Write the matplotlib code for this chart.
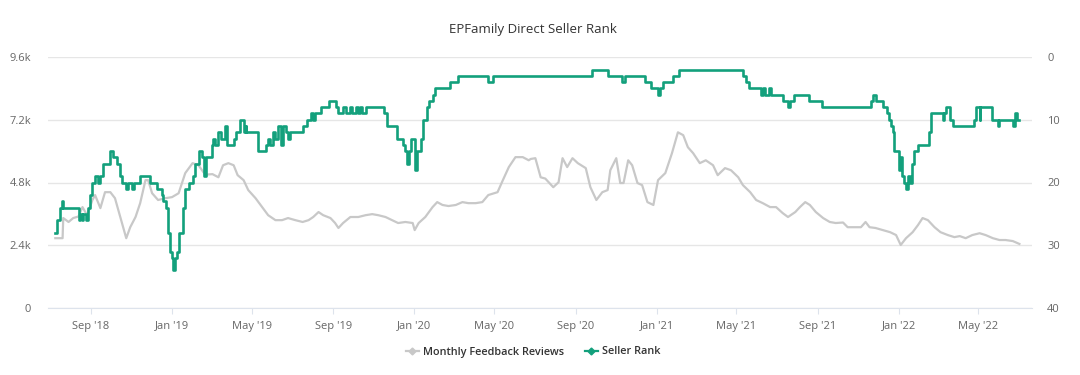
import pandas as pd
import matplotlib
matplotlib.use("Agg")
import matplotlib.pyplot as plt
import matplotlib.dates as mdates
from matplotlib.lines import Line2D
from matplotlib.ticker import FixedLocator, FuncFormatter

# ─────────────────────────────────────────────────────────────
# DATA
# ─────────────────────────────────────────────────────────────
review_dates = [
    "2018-07-09", "2018-07-20", "2018-07-21", "2018-07-29", "2018-08-05", "2018-08-13",
    "2018-08-19", "2018-08-26", "2018-09-03", "2018-09-07", "2018-09-15", "2018-09-22",
    "2018-09-30", "2018-10-07", "2018-10-15", "2018-10-24", "2018-10-30", "2018-11-07",
    "2018-11-14", "2018-11-22", "2018-11-26", "2018-12-02", "2018-12-11", "2018-12-22",
    "2019-01-01", "2019-01-11", "2019-01-21", "2019-02-01", "2019-02-10", "2019-02-20",
    "2019-03-03", "2019-03-12", "2019-03-19", "2019-03-27", "2019-04-04", "2019-04-10",
    "2019-04-19", "2019-04-26", "2019-05-07", "2019-05-17", "2019-05-26", "2019-06-06",
    "2019-06-16", "2019-06-25", "2019-07-06", "2019-07-17", "2019-07-26", "2019-08-02",
    "2019-08-10", "2019-08-17", "2019-08-28", "2019-09-04", "2019-09-09", "2019-09-16",
    "2019-09-27", "2019-10-09", "2019-10-20", "2019-10-30", "2019-11-08", "2019-11-19",
    "2019-11-29", "2019-12-08", "2019-12-19", "2019-12-30", "2020-01-02", "2020-01-08",
    "2020-01-18", "2020-01-29", "2020-02-05", "2020-02-13", "2020-02-22", "2020-03-04",
    "2020-03-14", "2020-03-23", "2020-04-03", "2020-04-13", "2020-04-22", "2020-05-06",
    "2020-05-14", "2020-05-23", "2020-06-02", "2020-06-13", "2020-06-22", "2020-06-25",
    "2020-07-02", "2020-07-10", "2020-07-17", "2020-07-22", "2020-07-29", "2020-08-06",
    "2020-08-12", "2020-08-19", "2020-08-27", "2020-09-04", "2020-09-16", "2020-09-23",
    "2020-10-02", "2020-10-11", "2020-10-19", "2020-10-23", "2020-11-01", "2020-11-07",
    "2020-11-12", "2020-11-19", "2020-11-25", "2020-12-03", "2020-12-10", "2020-12-18",
    "2020-12-27", "2021-01-03", "2021-01-14", "2021-01-24", "2021-02-02", "2021-02-10",
    "2021-02-17", "2021-02-25", "2021-03-07", "2021-03-16", "2021-03-27", "2021-04-03",
    "2021-04-14", "2021-04-23", "2021-05-04", "2021-05-11", "2021-05-22", "2021-05-31",
    "2021-06-10", "2021-06-21", "2021-06-30", "2021-07-10", "2021-07-18", "2021-07-29",
    "2021-08-05", "2021-08-13", "2021-08-20", "2021-08-29", "2021-09-09", "2021-09-19",
    "2021-09-28", "2021-10-09", "2021-10-16", "2021-10-27", "2021-11-05", "2021-11-12",
    "2021-11-18", "2021-11-27", "2021-12-08", "2021-12-19", "2021-12-28", "2022-01-04",
    "2022-01-12", "2022-01-22", "2022-01-30", "2022-02-06", "2022-02-14", "2022-02-24",
    "2022-03-05", "2022-03-16", "2022-03-26", "2022-04-03", "2022-04-12", "2022-04-22",
    "2022-05-03", "2022-05-12", "2022-05-23", "2022-06-02", "2022-06-11", "2022-06-22",
    "2022-07-02",
]
monthly_reviews = [
    2670, 2670, 3440, 3290, 3440, 3500,
    3860, 3550, 4130, 4320, 3820, 4430,
    4430, 4200, 3480, 2670, 3090, 3480,
    4010, 4890, 4890, 4390, 4130, 4200,
    4240, 4390, 5160, 5540, 5460, 5100,
    5120, 5000, 5460, 5540, 5460, 5080,
    4890, 4510, 4200, 3860, 3550, 3360,
    3360, 3440, 3360, 3290, 3360, 3480,
    3670, 3550, 3440, 3250, 3060, 3250,
    3480, 3480, 3550, 3590, 3550, 3480,
    3360, 3250, 3290, 3250, 2980, 3250,
    3480, 3860, 4050, 3940, 3900, 3940,
    4050, 4010, 4010, 4050, 4320, 4430,
    4890, 5390, 5770, 5770, 5650, 5700,
    5730, 5000, 4950, 4810, 4620, 4810,
    5730, 5390, 5730, 5540, 5350, 4620,
    4130, 4430, 4510, 5270, 5730, 4780,
    4780, 5650, 5460, 4780, 4700, 4050,
    3940, 4890, 5160, 5920, 6720, 6610,
    6150, 5920, 5540, 5650, 5460, 5080,
    5350, 5270, 5000, 4700, 4430, 4130,
    4010, 3860, 3860, 3630, 3480, 3670,
    3860, 4050, 3940, 3670, 3440, 3290,
    3250, 3270, 3090, 3090, 3090, 3290,
    3090, 3060, 2980, 2900, 2790, 2410,
    2670, 2900, 3170, 3440, 3360, 3090,
    2900, 2790, 2710, 2750, 2670, 2790,
    2860, 2790, 2670, 2600, 2600, 2560,
    2450,
]

rank_dates = [
    "2018-07-09", "2018-07-12", "2018-07-16", "2018-07-19", "2018-07-21", "2018-08-13",
    "2018-08-16", "2018-08-19", "2018-08-20", "2018-08-25", "2018-08-28", "2018-08-31",
    "2018-09-03", "2018-09-07", "2018-09-12", "2018-09-15", "2018-09-19", "2018-09-30",
    "2018-10-04", "2018-10-10", "2018-10-15", "2018-10-18", "2018-10-23", "2018-10-26",
    "2018-11-02", "2018-11-05", "2018-11-14", "2018-11-29", "2018-12-10", "2018-12-17",
    "2018-12-19", "2018-12-23", "2018-12-26", "2018-12-29", "2019-01-01", "2019-01-03",
    "2019-01-06", "2019-01-09", "2019-01-11", "2019-01-18", "2019-01-21", "2019-01-26",
    "2019-02-01", "2019-02-05", "2019-02-10", "2019-02-16", "2019-02-19", "2019-02-22",
    "2019-03-03", "2019-03-04", "2019-03-07", "2019-03-12", "2019-03-16", "2019-03-22",
    "2019-03-25", "2019-04-04", "2019-04-08", "2019-04-14", "2019-04-19", "2019-04-22",
    "2019-04-23", "2019-05-10", "2019-05-11", "2019-05-23", "2019-05-26", "2019-05-29",
    "2019-06-03", "2019-06-06", "2019-06-10", "2019-06-15", "2019-06-18", "2019-06-22",
    "2019-06-25", "2019-06-28", "2019-07-18", "2019-07-24", "2019-07-29", "2019-08-01",
    "2019-08-05", "2019-08-13", "2019-08-26", "2019-09-06", "2019-09-09", "2019-09-16",
    "2019-09-20", "2019-09-26", "2019-09-29", "2019-10-05", "2019-10-08", "2019-10-12",
    "2019-10-15", "2019-10-20", "2019-11-16", "2019-11-22", "2019-12-07", "2019-12-15",
    "2019-12-18", "2019-12-22", "2019-12-25", "2019-12-28", "2020-01-02", "2020-01-05",
    "2020-01-12", "2020-01-15", "2020-01-20", "2020-01-23", "2020-01-29", "2020-02-02",
    "2020-02-25", "2020-03-07", "2020-04-21", "2020-04-29", "2020-09-26", "2020-10-20",
    "2020-11-09", "2020-11-14", "2020-12-14", "2020-12-23", "2021-01-03", "2021-01-06",
    "2021-01-10", "2021-01-25", "2021-02-03", "2021-05-11", "2021-05-15", "2021-05-20",
    "2021-06-08", "2021-06-11", "2021-06-14", "2021-06-19", "2021-06-22", "2021-07-10",
    "2021-07-18", "2021-07-21", "2021-07-27", "2021-08-18", "2021-09-07", "2021-11-20",
    "2021-11-23", "2021-11-27", "2021-12-09", "2021-12-14", "2021-12-17", "2021-12-20",
    "2021-12-23", "2021-12-25", "2022-01-01", "2022-01-03", "2022-01-06", "2022-01-09",
    "2022-01-12", "2022-01-15", "2022-01-18", "2022-01-21", "2022-01-24", "2022-01-30",
    "2022-02-16", "2022-02-19", "2022-03-09", "2022-03-11", "2022-03-14", "2022-03-20",
    "2022-03-24", "2022-04-24", "2022-04-28", "2022-05-03", "2022-05-04", "2022-05-21",
    "2022-05-30", "2022-06-01", "2022-06-23", "2022-06-25", "2022-06-29", "2022-07-02",
]
seller_rank = [
    28, 26, 24, 23, 24, 26,
    25, 26, 25, 26, 24, 22,
    20, 19, 20, 19, 17, 15,
    16, 17, 19, 20, 21, 20,
    21, 20, 19, 20, 21, 22,
    23, 24, 28, 31, 32, 34,
    32, 31, 28, 24, 21, 20,
    19, 17, 15, 16, 19, 16,
    14, 13, 14, 12, 13, 11,
    14, 13, 12, 10, 12, 11,
    12, 13, 15, 14, 13, 14,
    12, 13, 11, 14, 11, 12,
    13, 12, 11, 10, 9, 10,
    9, 8, 7, 8, 9, 8,
    9, 8, 9, 8, 9, 8,
    9, 8, 9, 11, 13, 14,
    15, 17, 15, 13, 18, 15,
    13, 10, 8, 7, 6, 5,
    4, 3, 4, 3, 2, 3,
    4, 3, 4, 5, 6, 5,
    4, 3, 2, 3, 4, 5,
    6, 5, 6, 5, 6, 7,
    8, 7, 6, 7, 8, 7,
    6, 7, 8, 9, 10, 11,
    12, 15, 18, 16, 19, 20,
    21, 19, 20, 17, 15, 14,
    12, 9, 10, 9, 8, 10,
    11, 10, 8, 10, 8, 10,
    11, 10, 11, 9, 10, 10,
]

left_ticks = [0, 2400, 4800, 7200, 9600]
left_labels = ["0", "2.4k", "4.8k", "7.2k", "9.6k"]
right_ticks = [0, 10, 20, 30, 40]

# ─────────────────────────────────────────────────────────────
# PLOT
# ─────────────────────────────────────────────────────────────
plt.rcParams["font.family"] = ["Open Sans", "DejaVu Sans"]

GRAY = "#c8c8c8"
GREEN = "#13a07c"
GRID = "#e6e6e6"
LABEL = "#666666"

fig = plt.figure(figsize=(10.8, 3.75), dpi=100)
ax = fig.add_axes([48 / 1080, 1 - 308 / 375, (1032 - 48) / 1080, (308 - 57) / 375])
ax2 = ax.twinx()

rd = pd.to_datetime(review_dates)
sd = pd.to_datetime(rank_dates)

ax.plot(rd, monthly_reviews, color=GRAY, linewidth=1.6, zorder=2)
ax2.plot(sd, seller_rank, color=GREEN, linewidth=1.9, drawstyle="steps-post", zorder=3)

ax.set_ylim(0, 9600)
ax2.set_ylim(40, 0)
ax.set_xlim(pd.Timestamp("2018-06-28"), pd.Timestamp("2022-07-21"))

ax.yaxis.set_major_locator(FixedLocator(left_ticks))
ax.set_yticklabels(left_labels)
ax2.yaxis.set_major_locator(FixedLocator(right_ticks))
ax2.yaxis.set_major_formatter(FuncFormatter(lambda v, p: f"{int(v)}"))

ax.xaxis.set_major_locator(mdates.MonthLocator(bymonth=[1, 5, 9]))
ax.xaxis.set_major_formatter(mdates.DateFormatter("%b '%y"))

ax.grid(axis="y", color=GRID, linewidth=1)
ax.set_axisbelow(True)
for a in (ax, ax2):
    for s in a.spines.values():
        s.set_visible(False)
ax.spines["bottom"].set_visible(True)
ax.spines["bottom"].set_color("#dde3ec")

ax.tick_params(axis="y", length=0, pad=12, labelsize=8, labelcolor=LABEL)
ax2.tick_params(axis="y", length=0, pad=11, labelsize=8, labelcolor=LABEL)
ax.tick_params(axis="x", length=4, color="#dde3ec", pad=5, labelsize=8, labelcolor=LABEL)
for lab in ax.get_yticklabels():
    lab.set_horizontalalignment("right")

fig.text(533 / 1080, 1 - 30 / 375, "EPFamily Direct Seller Rank", ha="center", va="center",
         fontsize=9.5, color="#333333")

handles = [
    Line2D([0], [0], color=GRAY, linewidth=1.6, marker="D", markersize=3.5),
    Line2D([0], [0], color=GREEN, linewidth=1.6, marker="D", markersize=3.5),
]
fig.legend(handles, ["Monthly Feedback Reviews", "Seller Rank"], loc="center",
           bbox_to_anchor=(533 / 1080, 1 - 352 / 375), ncol=2, frameon=False,
           prop={"size": 7.8, "weight": "semibold"}, labelcolor="#333333",
           handlelength=1.2, handletextpad=0.4, columnspacing=1.9)

fig.savefig("out.png", dpi=100)
